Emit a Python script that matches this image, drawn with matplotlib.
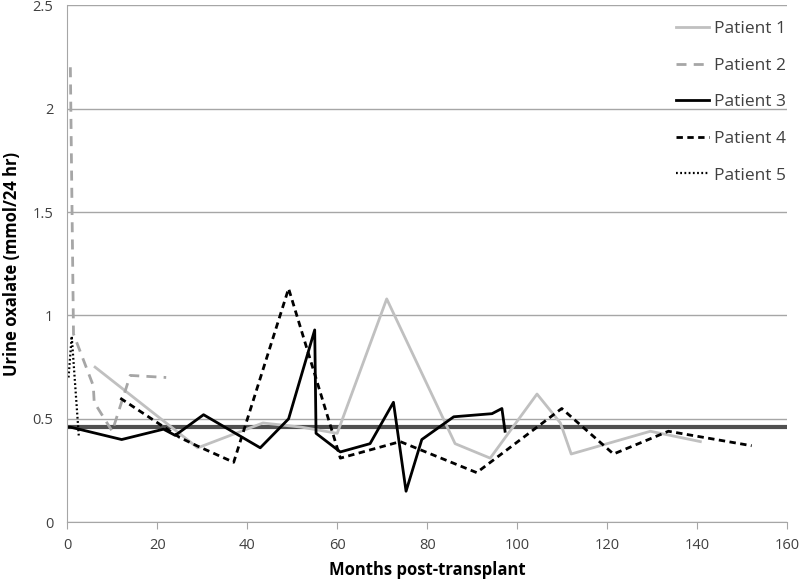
import matplotlib
matplotlib.use('Agg')
import matplotlib.pyplot as plt

# data (months post-transplant, urine oxalate mmol/24 hr)
p1_months = [6.2, 29, 43.5, 52, 60, 71, 86.2, 94, 104.4, 109.6, 112, 129.6, 140.7]
p1_values = [0.75, 0.36, 0.48, 0.46, 0.43, 1.08, 0.38, 0.31, 0.62, 0.48, 0.33, 0.44, 0.39]

p2_months = [0.7, 1.4, 5.8, 6.0, 10.0, 14.0, 22.0]
p2_values = [2.20, 0.91, 0.66, 0.58, 0.44, 0.71, 0.70]

p3_months = [0, 0.7, 12.1, 21.4, 24, 30.3, 42.9, 49.2, 55, 55.3, 60.7, 67.3, 72.5, 75.3,
             78.8, 85.9, 94.4, 96.6, 97.3]
p3_values = [0.46, 0.46, 0.40, 0.45, 0.42, 0.52, 0.36, 0.50, 0.93, 0.43, 0.34, 0.38, 0.58, 0.15,
             0.40, 0.51, 0.525, 0.55, 0.44]

p4_months = [11.8, 25, 28.8, 37, 49.2, 60.7, 74, 91, 109.9, 121.4, 133.6, 152.1]
p4_values = [0.60, 0.41, 0.37, 0.29, 1.13, 0.31, 0.39, 0.24, 0.55, 0.33, 0.44, 0.37]

p5_months = [0.3, 1.0, 2.6]
p5_values = [0.70, 0.90, 0.41]

reference_level = 0.46

plt.rcParams['font.family'] = ['Open Sans', 'DejaVu Sans']

fig = plt.figure(figsize=(8, 5.79), dpi=100)
ax = fig.add_axes([0.084, 0.098, 0.9, 0.893])

ax.plot(p1_months, p1_values, color='#c0c0c0', lw=2.0, label='Patient 1')
ax.plot(p2_months, p2_values, color='#a6a6a6', lw=2.0, ls=(0, (3.6, 2.6)), label='Patient 2')
ax.plot(p3_months, p3_values, color='black', lw=2.0, label='Patient 3')
ax.plot(p4_months, p4_values, color='black', lw=2.0, ls=(0, (2.3, 1.6)), label='Patient 4')
ax.plot(p5_months, p5_values, color='black', lw=1.6, ls=(0, (0.8, 1.1)), label='Patient 5')
ax.axhline(reference_level, color='#505050', lw=3, zorder=1)

ax.set_xlim(0, 160)
ax.set_ylim(0, 2.5)
ax.set_xticks(range(0, 161, 20))
ax.set_yticks([0, 0.5, 1, 1.5, 2, 2.5])
ax.set_yticklabels(['0', '0.5', '1', '1.5', '2', '2.5'])
ax.yaxis.grid(True, color='#a6a6a6', lw=1)
ax.set_axisbelow(True)

for side in ['top', 'right']:
    ax.spines[side].set_visible(False)
ax.spines['left'].set_color('#a6a6a6')
ax.spines['bottom'].set_color('#a6a6a6')
ax.tick_params(axis='y', length=0, labelsize=10.5, colors='#404040', pad=10)
ax.tick_params(axis='x', length=5, color='#a6a6a6', labelsize=10.5, colors='#404040', pad=6)

ax.set_xlabel('Months post-transplant', fontsize=12, fontweight='bold', labelpad=6)
ax.set_ylabel('Urine oxalate (mmol/24 hr)', fontsize=12, fontweight='bold', labelpad=8)

leg = ax.legend(loc='upper right', frameon=False, fontsize=12.5, handlelength=1.9,
                handletextpad=0.3, labelspacing=1.18, borderaxespad=0.5,
                bbox_to_anchor=(1.02, 1.0))
for t in leg.get_texts():
    t.set_color('#404040')

fig.savefig('out.png', dpi=100)
